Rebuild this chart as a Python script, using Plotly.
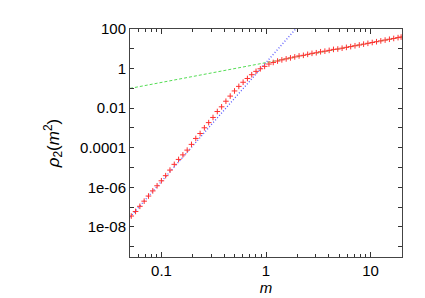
import plotly.graph_objects as go

# Data
m_vals = [0.0514, 0.05651, 0.06213, 0.06831, 0.0751, 0.08256, 0.09078, 0.0998,
          0.1097, 0.1206, 0.1326, 0.1458, 0.1603, 0.1762, 0.1937, 0.213,
          0.2342, 0.2574, 0.283, 0.3112, 0.3421, 0.3761, 0.4135, 0.4546,
          0.4998, 0.5495, 0.6041, 0.6642, 0.7302, 0.8028, 0.8826, 0.9705,
          1.067, 1.173, 1.29, 1.418, 1.559, 1.714, 1.884, 2.072,
          2.278, 2.504, 2.753, 3.027, 3.327, 3.658, 4.022, 4.421,
          4.861, 5.344, 5.875, 6.459, 7.101, 7.807, 8.583, 9.437,
          10.38, 11.41, 12.54, 13.79, 15.16, 16.67, 18.33, 19.6]
rho_vals = [3.55e-8, 6.03e-8, 1.10e-7, 2.00e-7, 3.63e-7, 6.61e-7, 1.20e-6, 2.14e-6,
            3.89e-6, 7.41e-6, 1.45e-5, 2.57e-5, 4.37e-5, 7.59e-5, 1.48e-4, 2.95e-4,
            5.25e-4, 1.02e-3, 1.86e-3, 3.39e-3, 6.76e-3, 0.0117, 0.0224, 0.0407,
            0.0741, 0.126, 0.204, 0.316, 0.490, 0.724, 0.977, 1.29,
            1.70, 2.04, 2.40, 2.75, 3.09, 3.47, 3.89, 4.37,
            4.68, 5.25, 5.89, 6.31, 7.08, 7.59, 8.32, 9.33,
            9.72, 10.7, 11.8, 12.9, 14.2, 15.6, 17.2, 18.9,
            20.8, 22.8, 25.1, 27.6, 30.3, 33.3, 36.7, 39.2]

# asymptotic power laws: rho = coef * m**power
low_coef, low_power = 2.0, 6.0
high_coef, high_power = 2.0, 1.0
line_m = [0.05, 20.0]
low_line = [low_coef * x ** low_power for x in line_m]
high_line = [high_coef * x ** high_power for x in line_m]

x_major = [0.1, 1, 10]
x_major_text = ["0.1", "1", "10"]
x_minor = [k * 10 ** e for e in (-2, -1, 0, 1) for k in range(2, 10)]
y_ticks = [10.0 ** e for e in range(-9, 3)]
y_text = {2: "100", 0: "1", -2: "0.01", -4: "0.0001", -6: "1e-06", -8: "1e-08"}
y_ticktext = [y_text.get(e, "") for e in range(-9, 3)]

fig = go.Figure()
fig.add_trace(go.Scatter(x=line_m, y=high_line, mode="lines",
                         line=dict(color="#55dd55", width=1, dash="3px,2px")))
fig.add_trace(go.Scatter(x=line_m, y=low_line, mode="lines",
                         line=dict(color="#5a5aff", width=1.3, dash="1px,2px")))
fig.add_trace(go.Scatter(x=m_vals, y=rho_vals, mode="markers",
                         marker=dict(symbol="cross-thin", size=4,
                                     color="#ff3030",
                                     line=dict(color="#ff3030", width=1))))

font = dict(family="Liberation Sans, Arial, Helvetica, sans-serif", size=15, color="black")
tfont = dict(family="Liberation Sans, Arial, Helvetica, sans-serif", size=17, color="black")
fig.update_layout(
    width=425, height=298,
    margin=dict(l=122, r=31, t=21, b=42),
    paper_bgcolor="white", plot_bgcolor="white",
    showlegend=False, font=font,
    xaxis=dict(type="log", range=[-1.30103, 1.30103],
               tickvals=x_major, ticktext=x_major_text,
               ticks="inside", ticklen=5, tickcolor="#333",
               minor=dict(tickvals=x_minor, ticks="inside", ticklen=3, tickcolor="#333"),
               showline=True, linecolor="#444", linewidth=1, mirror="allticks",
               showgrid=False, zeroline=False, tickfont=font,
               title=dict(text="<i>m</i>", standoff=4, font=font)),
    yaxis=dict(type="log", range=[-9.52, 2.0],
               tickvals=y_ticks, ticktext=y_ticktext,
               ticks="inside", ticklen=4, tickcolor="#333",
               showline=True, linecolor="#444", linewidth=1, mirror="allticks",
               showgrid=False, zeroline=False, tickfont=font,
               title=dict(text="<i>ρ</i><sub>2</sub>(<i>m</i><sup>2</sup>)", standoff=16, font=tfont)),
)

fig.write_html("out.html")
